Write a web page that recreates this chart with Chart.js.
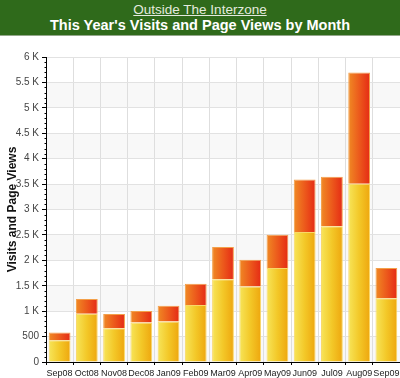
<!DOCTYPE html>
<html>
<head>
<meta charset="utf-8">
<script src="https://cdn.jsdelivr.net/npm/chart.js@4/dist/chart.umd.min.js"></script>
<style>
  html, body { margin: 0; padding: 0; background: #fff; }
  body { width: 400px; height: 378px; overflow: hidden; font-family: 'Liberation Sans', Arial, sans-serif; }
  .header {
    height: 35px; background: #2f6a1b; border-bottom: 1px solid #93a78a;
    text-align: center; color: #fff;
  }
  .header .site { font-size: 13.5px; color: #e4eadf; text-decoration: underline; padding-top: 2px; line-height: 15px; }
  .header .title { font-size: 14.5px; font-weight: bold; line-height: 17px; }
  #wrap { position: absolute; left: 0; top: 36px; width: 400px; height: 342px; }
</style>
</head>
<body>
<div class="header">
  <div class="site">Outside The Interzone</div>
  <div class="title">This Year's Visits and Page Views by Month</div>
</div>
<div id="wrap"><canvas id="chart"></canvas></div>
<script>
// ===== DATA =====
const MONTHS = ['Sep08', 'Oct08', 'Nov08', 'Dec08', 'Jan09', 'Feb09', 'Mar09',
                'Apr09', 'May09', 'Jun09', 'Jul09', 'Aug09', 'Sep09'];
const VISITS = [430, 950, 665, 775, 795, 1120, 1630, 1485, 1850, 2555, 2670, 3505, 1255];
// page views stacked on top of the visits bar
const PAGE_VIEWS_EXTRA = [150, 290, 280, 230, 310, 420, 630, 525, 655, 1035, 975, 2190, 595];
const Y_MAX = 6000;
const Y_STEP = 500;

const BAR_PCT = 0.8;
const FONT = "'Liberation Sans', Arial, sans-serif";

// horizontal gradient across each bar
function barGradient(stops) {
  return (ctx) => {
    const chart = ctx.chart;
    const x = chart.scales.x;
    if (!chart.chartArea || !x || ctx.dataIndex === undefined) return stops[1];
    const cw = (x.right - x.left) / MONTHS.length;
    const cx = x.getPixelForValue(ctx.dataIndex);
    const g = chart.ctx.createLinearGradient(cx - cw * BAR_PCT / 2, 0, cx + cw * BAR_PCT / 2, 0);
    g.addColorStop(0, stops[0]);
    g.addColorStop(0.5, stops[1]);
    g.addColorStop(1, stops[2]);
    return g;
  };
}

// alternating light bands behind the plot
const bandsPlugin = {
  id: 'bands',
  beforeDraw(chart) {
    const { ctx, chartArea: a, scales: { y } } = chart;
    ctx.save();
    ctx.fillStyle = '#f8f8f8';
    for (let v = 0; v < Y_MAX; v += Y_STEP * 2) {
      const top = y.getPixelForValue(v + Y_STEP);
      const bot = y.getPixelForValue(v);
      ctx.fillRect(a.left, top, a.right - a.left, bot - top);
    }
    ctx.restore();
  }
};

// small minor ticks on the y axis
const minorTicks = {
  id: 'minorTicks',
  afterDraw(chart) {
    const { ctx, scales: { y } } = chart;
    const x0 = Math.round(y.right) + 0.5;
    ctx.save();
    ctx.strokeStyle = '#000';
    ctx.lineWidth = 1;
    ctx.beginPath();
    for (let v = 0; v <= Y_MAX; v += 100) {
      if (v % Y_STEP === 0) continue;
      const py = Math.round(y.getPixelForValue(v)) + 0.5;
      ctx.moveTo(x0 - 2, py);
      ctx.lineTo(x0, py);
    }
    ctx.stroke();
    ctx.restore();
  }
};

new Chart(document.getElementById('chart'), {
  type: 'bar',
  data: {
    labels: MONTHS,
    datasets: [{
      label: 'Visits',
      data: VISITS,
      backgroundColor: barGradient(['#f7e55a', '#f3c828', '#eea60e']),
      borderColor: '#f9d868',
      borderWidth: 1,
    }, {
      label: 'Page Views',
      data: PAGE_VIEWS_EXTRA,
      backgroundColor: barGradient(['#f08a24', '#ec5a1c', '#e52a14']),
      borderColor: '#f3a04a',
      borderWidth: 1,
    }]
  },
  options: {
    responsive: true,
    maintainAspectRatio: false,
    animation: false,
    datasets: { bar: { barPercentage: BAR_PCT, categoryPercentage: 1 } },
    layout: { padding: { top: 21, right: 0, left: 0, bottom: 0 } },
    plugins: {
      legend: { display: false },
      tooltip: { enabled: false },
    },
    scales: {
      x: {
        stacked: true,
        offset: true,
        grid: { offset: true, color: '#dedede', tickColor: '#000', tickLength: 3 },
        border: { color: '#000' },
        ticks: { color: '#222', padding: 3, maxRotation: 0, autoSkip: false, font: { family: FONT, size: 9 } },
        afterFit: s => { s.height = 16; s.paddingLeft = 0; s.paddingRight = 0; },
      },
      y: {
        stacked: true,
        min: 0,
        max: Y_MAX,
        ticks: {
          stepSize: Y_STEP,
          padding: 3,
          color: '#444',
          font: { family: FONT, size: 10 },
          callback: v => v >= 1000 ? (v / 1000) + ' K' : v,
        },
        grid: { color: '#e2e2e2', tickColor: '#000', tickLength: 4 },
        border: { color: '#000' },
        title: {
          display: true,
          text: 'Visits and Page Views',
          color: '#111',
          padding: { top: 5, bottom: 0 },
          font: { family: FONT, size: 12, weight: 'bold' },
        },
        afterFit: s => { s.width = 46; },
      }
    }
  },
  plugins: [bandsPlugin, minorTicks]
});
</script>
</body>
</html>
